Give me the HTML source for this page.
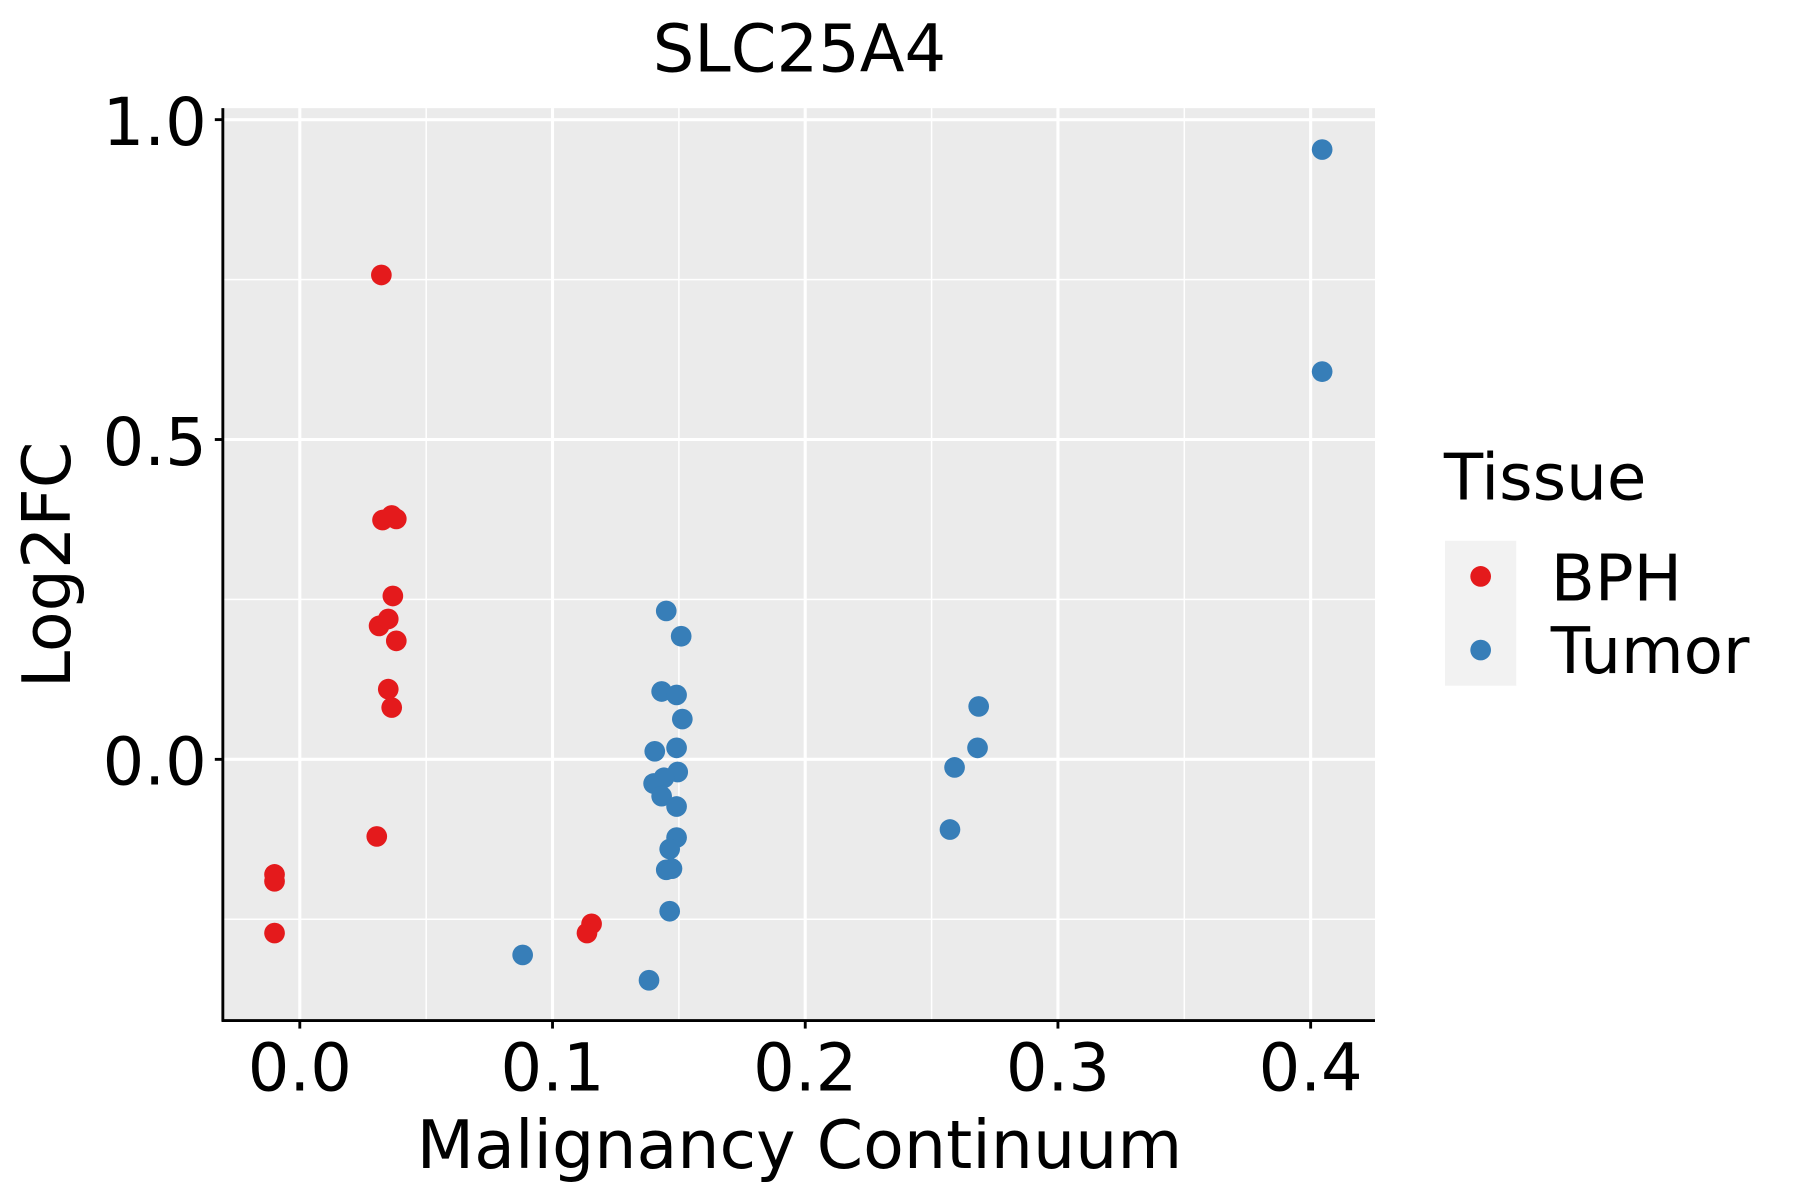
<!DOCTYPE html>
<html><head><style>html,body{margin:0;padding:0;background:#fff}svg{display:block}</style></head>
<body>
<svg width="1800" height="1200" viewBox="0 0 1567 1043" preserveAspectRatio="none" xmlns="http://www.w3.org/2000/svg" font-family="DejaVu Sans, Liberation Sans, sans-serif">
<rect x="195" y="94" width="1002" height="793" fill="#ebebeb"/>
<g stroke="#fff" stroke-width="1.3">
<line x1="195" x2="1197" y1="243" y2="243"/><line x1="195" x2="1197" y1="521" y2="521"/><line x1="195" x2="1197" y1="799" y2="799"/>
<line y1="94" y2="887" x1="371" x2="371"/><line y1="94" y2="887" x1="591" x2="591"/><line y1="94" y2="887" x1="811" x2="811"/><line y1="94" y2="887" x1="1031" x2="1031"/>
</g>
<g stroke="#fff" stroke-width="2.7">
<line x1="195" x2="1197" y1="104" y2="104"/><line x1="195" x2="1197" y1="382" y2="382"/><line x1="195" x2="1197" y1="660" y2="660"/>
<line y1="94" y2="887" x1="261" x2="261"/><line y1="94" y2="887" x1="481" x2="481"/><line y1="94" y2="887" x1="701" x2="701"/><line y1="94" y2="887" x1="921" x2="921"/><line y1="94" y2="887" x1="1141" x2="1141"/>
</g>
<g stroke="#000" stroke-width="2.5">
<line x1="194" x2="194" y1="94" y2="888"/><line x1="193" x2="1197" y1="887" y2="887"/>
<line x1="187" x2="194" y1="104" y2="104"/><line x1="187" x2="194" y1="382" y2="382"/><line x1="187" x2="194" y1="660" y2="660"/>
<line y1="887" y2="894" x1="261" x2="261"/><line y1="887" y2="894" x1="481" x2="481"/><line y1="887" y2="894" x1="701" x2="701"/><line y1="887" y2="894" x1="921" x2="921"/><line y1="887" y2="894" x1="1141" x2="1141"/>
</g>
<g fill="#e41a1c">
<circle cx="332" cy="239" r="9"/><circle cx="333" cy="452" r="9"/><circle cx="341" cy="448" r="9"/><circle cx="345" cy="451" r="9"/><circle cx="342" cy="518" r="9"/><circle cx="330" cy="544" r="9"/><circle cx="338" cy="538" r="9"/><circle cx="345" cy="557" r="9"/><circle cx="338" cy="599" r="9"/><circle cx="341" cy="615" r="9"/><circle cx="328" cy="727" r="9"/><circle cx="239" cy="760" r="9"/><circle cx="239" cy="766" r="9"/><circle cx="239" cy="811" r="9"/><circle cx="515" cy="803" r="9"/><circle cx="511" cy="811" r="9"/>
</g>
<g fill="#377eb8">
<circle cx="1151" cy="130" r="9"/><circle cx="1151" cy="323" r="9"/><circle cx="580" cy="531" r="9"/><circle cx="593" cy="553" r="9"/><circle cx="576" cy="601" r="9"/><circle cx="589" cy="604" r="9"/><circle cx="594" cy="625" r="9"/><circle cx="570" cy="653" r="9"/><circle cx="589" cy="650" r="9"/><circle cx="590" cy="671" r="9"/><circle cx="578" cy="676" r="9"/><circle cx="569" cy="681" r="9"/><circle cx="576" cy="692" r="9"/><circle cx="589" cy="701" r="9"/><circle cx="589" cy="728" r="9"/><circle cx="583" cy="738" r="9"/><circle cx="580" cy="756" r="9"/><circle cx="585" cy="755" r="9"/><circle cx="583" cy="792" r="9"/><circle cx="455" cy="830" r="9"/><circle cx="565" cy="852" r="9"/><circle cx="852" cy="614" r="9"/><circle cx="851" cy="650" r="9"/><circle cx="831" cy="667" r="9"/><circle cx="827" cy="721" r="9"/>
</g>
<g font-size="57" fill="#000" text-anchor="end">
<text x="180" y="126">1.0</text><text x="180" y="404">0.5</text><text x="180" y="682">0.0</text>
</g>
<g font-size="57" fill="#000" text-anchor="middle">
<text x="261" y="948">0.0</text><text x="481" y="948">0.1</text><text x="701" y="948">0.2</text><text x="921" y="948">0.3</text><text x="1141" y="948">0.4</text>
</g>
<text x="696" y="1015" font-size="58" text-anchor="middle">Malignancy Continuum</text>
<text x="696" y="62" font-size="57" text-anchor="middle">SLC25A4</text>
<text transform="translate(61,491) rotate(-90)" font-size="58" text-anchor="middle">Log2FC</text>
<text x="1257" y="434" font-size="56">Tissue</text>
<rect x="1258" y="470" width="62" height="126" fill="#f2f2f2"/>
<circle cx="1289" cy="501" r="9" fill="#e41a1c"/><circle cx="1289" cy="565" r="9" fill="#377eb8"/>
<text x="1350" y="522" font-size="56">BPH</text><text x="1350" y="585" font-size="56">Tumor</text>
</svg>
</body></html>
